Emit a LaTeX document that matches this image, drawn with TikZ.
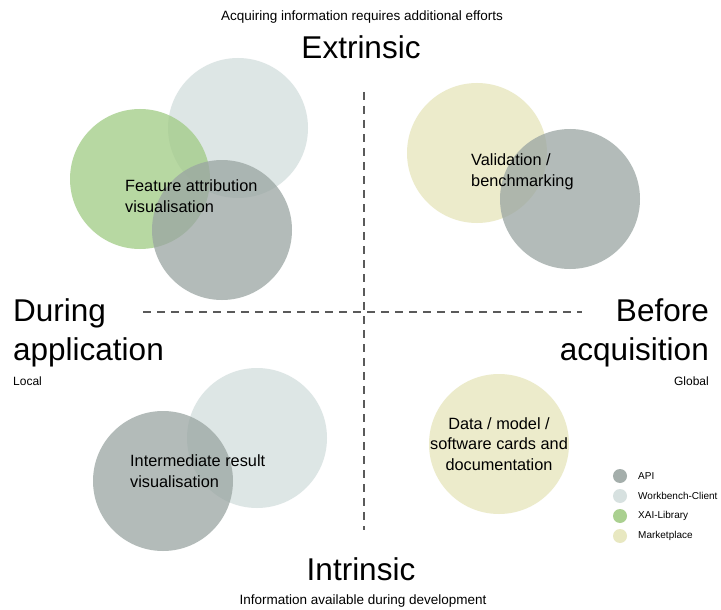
\documentclass[tikz,border=0pt]{standalone}
\usepackage{fontspec}
\setmainfont{Liberation Sans}
\begin{document}
\begin{tikzpicture}[x=1pt,y=-1pt,
  api/.style={fill=apiC,fill opacity=0.75},
  wbc/.style={fill=wbcC,fill opacity=0.75},
  xai/.style={fill=xaiC,fill opacity=0.75},
  mkt/.style={fill=mktC,fill opacity=0.75},
  blob/.style={circle,minimum size=140pt,inner sep=0pt,draw=none},
  dot/.style={circle,minimum size=14pt,inner sep=0pt,draw=none},
  axisline/.style={draw=lineC,line width=1.4pt,dash pattern=on 8pt off 6pt},
  big/.style={font=\fontsize{31.5}{39}\selectfont,inner sep=0pt},
  small/.style={font=\fontsize{13.5}{15}\selectfont,inner sep=0pt},
  tiny/.style={font=\fontsize{12}{14}\selectfont,inner sep=0pt},
  lbl/.style={font=\fontsize{16.3}{20.5}\selectfont,inner sep=0pt,align=left},
  leg/.style={font=\fontsize{10}{12}\selectfont,inner sep=0pt,anchor=west}]
\definecolor{apiC}{HTML}{9AA5A2}
\definecolor{wbcC}{HTML}{D2DEDD}
\definecolor{xaiC}{HTML}{A0CB84}
\definecolor{mktC}{HTML}{E6E5BA}
\definecolor{lineC}{HTML}{5A5A5A}
\useasboundingbox[fill=white] (0,0) rectangle (721,610);

% axes
\coordinate (vt) at (364,92);
\coordinate (vb) at (364,530);
\coordinate (hl) at (143,312);
\coordinate (hr) at (582,312);
\draw[axisline] (vt) -- (vb);
\draw[axisline] (hl) -- (hr);

% top-left cluster
\node[blob,wbc] (tlw) at (238,128) {};
\node[blob,xai] (tlx) at (140,179) {};
\node[blob,api] (tla) at (222,230) {};
\node[lbl,anchor=west] (fa) at (125,196) {Feature attribution\\visualisation};

% top-right cluster
\node[blob,mkt] (trm) at (477,153) {};
\node[blob,api] (tra) at (570,199) {};
\node[lbl,anchor=west] (vb2) at (471,172) {Validation /\\benchmarking};

% bottom-left cluster
\node[blob,wbc] (blw) at (257,438) {};
\node[blob,api] (bla) at (163,481) {};
\node[lbl,anchor=west] (ir) at (130,471) {Intermediate result\\visualisation};

% bottom-right
\node[blob,mkt] (brm) at (499,444) {};
\node[lbl,align=center] (dm) at (499,444) {Data / model /\\software cards and\\documentation};

% titles
\node[small] (top) at (362,17) {Acquiring information requires additional efforts};
\node[big] (ext) at (361,47) {Extrinsic};
\node[big] (int) at (361,569) {Intrinsic};
\node[small] (bot) at (363,601) {Information available during development};
\node[big,anchor=west,align=left] (dur) at (13,333) {During\\application};
\node[big,anchor=east,align=right] (bef) at (709,333) {Before\\acquisition};
\node[tiny,anchor=west] (loc) at (13,381) {Local};
\node[tiny,anchor=east] (glo) at (709,381) {Global};

% legend
\node[dot,fill=apiC!90] (l1) at (620,476) {};
\node[dot,fill=wbcC!90] (l2) at (620,496) {};
\node[dot,fill=xaiC!90] (l3) at (620,516) {};
\node[dot,fill=mktC!90] (l4) at (620,536) {};
\node[leg] (t1) at (638,476) {API};
\node[leg] (t2) at (638,496) {Workbench-Client};
\node[leg] (t3) at (638,516) {XAI-Library};
\node[leg] (t4) at (638,536) {Marketplace};
\end{tikzpicture}
\end{document}
